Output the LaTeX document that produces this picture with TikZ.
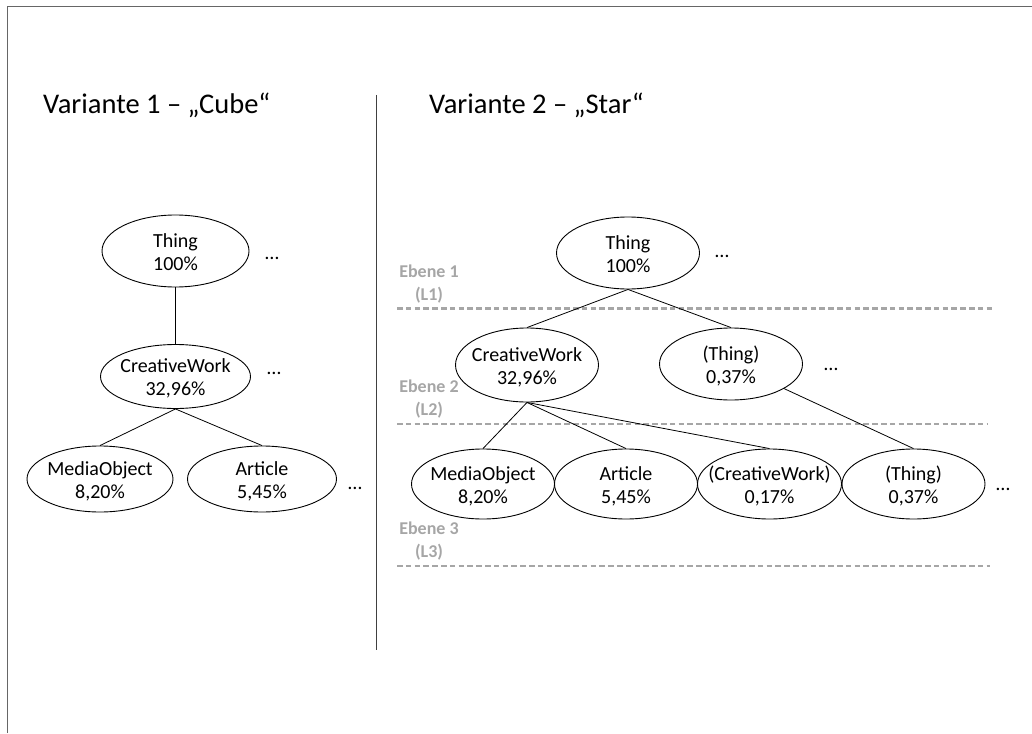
\documentclass[tikz,border=0pt]{standalone}
\usepackage{fontspec}
\setmainfont{Carlito}
\usetikzlibrary{shapes.geometric}
\definecolor{levelgray}{HTML}{A6A6A6}
\definecolor{framegray}{HTML}{666666}
\definecolor{divgray}{HTML}{404040}
% two centred lines inside a zero-width box, baseline = first line
\newcommand\twolines[2]{\makebox[0pt]{\raisebox{0pt}[16pt][24pt]{\begin{tabular}[t]{@{}c@{}}#1\\#2\end{tabular}}}}
\begin{document}
\begin{tikzpicture}[x=1pt,y=-1pt,
  cls/.style={ellipse, draw, line width=0.9pt, inner sep=0pt,
    font=\fontsize{20}{23}\selectfont},
  more/.style={inner sep=0pt, font=\fontsize{20}{23}\selectfont},
  title/.style={anchor=base west, inner sep=0pt, font=\fontsize{28.5}{34}\selectfont},
  level/.style={anchor=base, inner sep=0pt, align=center, text=levelgray,
    font=\bfseries\fontsize{18}{23}\selectfont},
  levelline/.style={draw=levelgray, line width=2.6pt, dash pattern=on 5.5pt off 3.3pt},
  link/.style={draw, line width=0.8pt}]
\useasboundingbox (0,0) rectangle (1032,733);

% page frame (top and left edge)
\coordinate (fr1) at (7,733);
\coordinate (fr2) at (7,7);
\coordinate (fr3) at (1032,7);
\draw[framegray, line width=1pt] (fr1) -- (fr2) -- (fr3);

% divider between the two variants
\coordinate (divtop) at (376.7,95);
\coordinate (divbot) at (376.7,650);
\draw[divgray, line width=1pt] (divtop) -- (divbot);

% titles
\node[title] (t1) at (43,113.3) {Variante 1 – „Cube“};
\node[title] (t2) at (429,113.3) {Variante 2 – „Star“};

% level separators
\coordinate (l1a) at (397,308.5); \coordinate (l1b) at (992,308.5);
\coordinate (l2a) at (397,424);   \coordinate (l2b) at (987,424);
\coordinate (l3a) at (397,566);   \coordinate (l3b) at (990,566);
\draw[levelline] (l1a) -- (l1b);
\draw[levelline] (l2a) -- (l2b);
\draw[levelline] (l3a) -- (l3b);

% level captions (base anchor sits on the last line)
\node[level] (e1) at (429,300.5) {Ebene 1\\(L1)};
\node[level] (e2) at (429,415.5) {Ebene 2\\(L2)};
\node[level] (e3) at (429,557) {Ebene 3\\(L3)};

% variant 1 (cube)
\node[cls, minimum width=147pt, minimum height=72pt] (T1) at (175.5,251) {\twolines{Thing}{100\%}};
\node[cls, minimum width=150pt, minimum height=64pt] (CW1) at (175.5,376.5) {\twolines{CreativeWork}{32,96\%}};
\node[cls, minimum width=146pt, minimum height=66pt] (MO1) at (100,479) {\twolines{MediaObject}{8,20\%}};
\node[cls, minimum width=149pt, minimum height=66pt] (AR1) at (262,479) {\twolines{Article}{5,45\%}};
\node[more] (d1) at (272,258) {…};
\node[more] (d2) at (274,373) {…};
\node[more] (d3) at (355,488) {…};

\draw[link] (T1.south) -- (CW1.north);
\draw[link] (CW1.south) -- (MO1.north);
\draw[link] (CW1.south) -- (AR1.north);

% variant 2 (star)
\node[cls, minimum width=143pt, minimum height=72pt] (T2) at (628,253) {\twolines{Thing}{100\%}};
\node[cls, minimum width=143pt, minimum height=74pt] (CW2) at (527,365) {\twolines{CreativeWork}{32,96\%}};
\node[cls, minimum width=143pt, minimum height=72pt] (TH2) at (731,364) {\twolines{(Thing)}{0,37\%}};
\node[cls, minimum width=143pt, minimum height=70pt] (MO2) at (483,484) {\twolines{MediaObject}{8,20\%}};
\node[cls, minimum width=143pt, minimum height=70pt] (AR2) at (626,484) {\twolines{Article}{5,45\%}};
\node[cls, minimum width=144pt, minimum height=70pt] (CWc) at (769.5,484) {\twolines{(CreativeWork)}{0,17\%}};
\node[cls, minimum width=143pt, minimum height=70pt] (THc) at (913.5,484) {\twolines{(Thing)}{0,37\%}};
\node[more] (d4) at (722,256) {…};
\node[more] (d5) at (831,369) {…};
\node[more] (d6) at (1003,489) {…};

\draw[link] (T2.south) -- (CW2.north);
\draw[link] (T2.south) -- (TH2.north);
\draw[link] (CW2.south) -- (MO2.north);
\draw[link] (CW2.south) -- (AR2.north);
\draw[link] (CW2.south) -- (CWc.north);
\draw[link] (TH2) -- (THc.north);
\end{tikzpicture}
\end{document}
